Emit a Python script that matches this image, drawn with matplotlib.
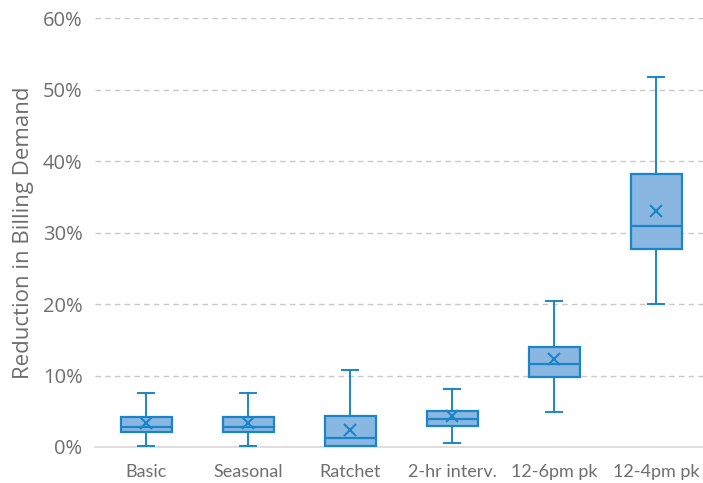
import matplotlib
matplotlib.use("Agg")
import matplotlib.pyplot as plt
from matplotlib.ticker import PercentFormatter

categories = ["Basic", "Seasonal", "Ratchet", "2-hr interv.", "12-6pm pk", "12-4pm pk"]
whislo = [0.0014, 0.0015, 0.0010, 0.005, 0.049, 0.2006]
q1 = [0.0206, 0.021, 0.0010, 0.030, 0.0985, 0.2775]
med = [0.0276, 0.028, 0.012, 0.039, 0.116, 0.310]
q3 = [0.0416, 0.042, 0.0434, 0.050, 0.140, 0.3825]
whishi = [0.075, 0.075, 0.108, 0.081, 0.204, 0.518]
mean = [0.033, 0.033, 0.024, 0.044, 0.123, 0.331]
yticks = [0, 0.1, 0.2, 0.3, 0.4, 0.5, 0.6]

edge = "#1a86c8"
fill = "#8ab6e2"
gray = "#6e6e6e"

fig = plt.figure(figsize=(7.03, 4.83), dpi=100)
W, H = 703, 483
left, right, bottom, top = 95, 703, 447, 18.3
ax = fig.add_axes([left / W, (H - bottom) / H, (right - left) / W, (bottom - top) / H])

stats = []
for i, c in enumerate(categories):
    stats.append(dict(label=c, whislo=whislo[i], q1=q1[i], med=med[i], q3=q3[i],
                      whishi=whishi[i], mean=mean[i], fliers=[]))

ax.bxp(stats, positions=range(len(categories)), widths=0.5, capwidths=0.15,
       showmeans=True, patch_artist=True,
       boxprops=dict(facecolor=fill, edgecolor=edge, linewidth=1.6),
       medianprops=dict(color=edge, linewidth=1.6),
       whiskerprops=dict(color=edge, linewidth=1.4),
       capprops=dict(color=edge, linewidth=1.4),
       meanprops=dict(marker="x", markeredgecolor=edge, markersize=8, markeredgewidth=1.5),
       zorder=3)

ax.set_ylim(0, 0.6)
ax.set_xlim(-0.5, 5.46)
ax.set_yticks(yticks)
ax.yaxis.set_major_formatter(PercentFormatter(1.0, decimals=0))
ax.set_xticks(range(len(categories)))
ax.set_xticklabels(categories)

for s in ["top", "right", "left"]:
    ax.spines[s].set_visible(False)
ax.spines["bottom"].set_color("#d9d9d9")
ax.spines["bottom"].set_linewidth(1.2)

ax.yaxis.grid(True, linestyle=(0, (4, 3)), color="#c8c8c8", linewidth=1.0)
ax.set_axisbelow(True)
ax.tick_params(axis="both", length=0)
ax.tick_params(axis="y", labelsize=14.5, labelcolor=gray, pad=9)
ax.tick_params(axis="x", labelsize=13, labelcolor=gray, pad=12)
for lbl in ax.get_yticklabels():
    lbl.set_fontfamily("Open Sans")
for lbl in ax.get_xticklabels():
    lbl.set_fontfamily("Lato")

ax.set_ylabel("Reduction in Billing Demand", fontsize=16, color=gray, family="Open Sans", labelpad=6)

fig.savefig("out.png", dpi=100)
